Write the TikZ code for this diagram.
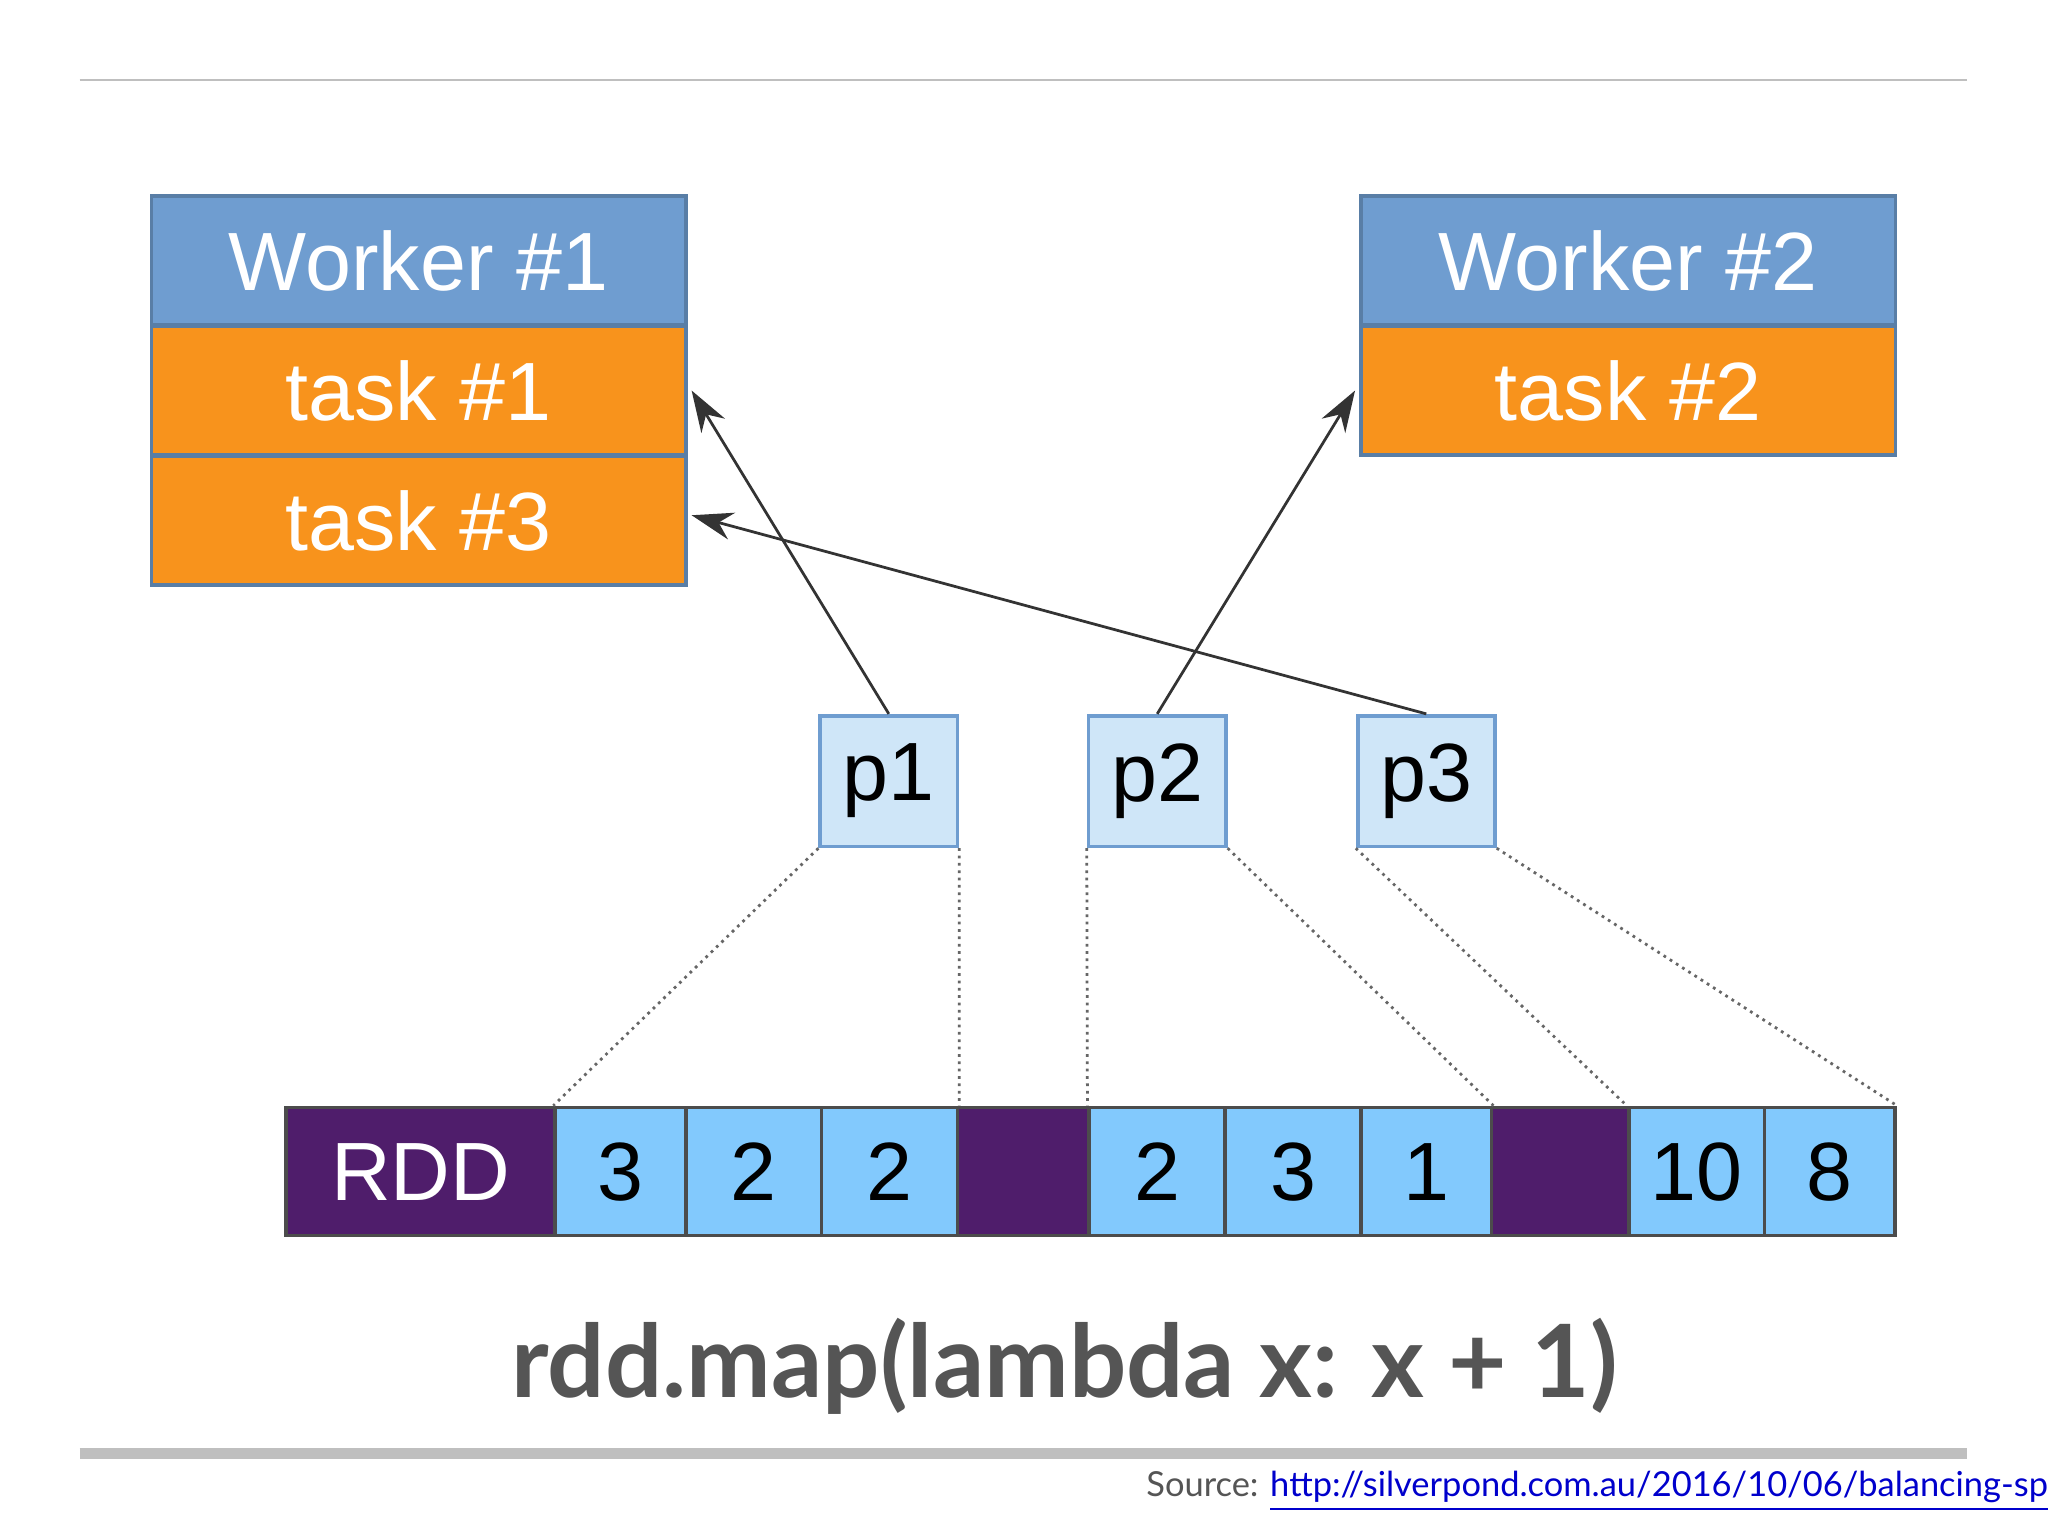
\documentclass[tikz,border=0pt]{standalone}
\usepackage{fontspec}
\setmainfont{Liberation Sans}
\newfontfamily\titlefont{Lato}
\usetikzlibrary{arrows.meta}
\definecolor{hdr}{HTML}{6F9DD0}
\definecolor{tsk}{HTML}{F8931C}
\definecolor{pbox}{HTML}{CFE6F8}
\definecolor{cell}{HTML}{82C9FD}
\definecolor{rdd}{HTML}{4F1D6B}
\definecolor{ttl}{HTML}{555555}
\begin{document}
\begin{tikzpicture}[x=0.01cm,y=-0.01cm,
  box/.style={draw=hdr!80!black, line width=0.8pt, inner sep=0pt, font=\fontsize{18}{18}\selectfont},
  hd/.style={box, fill=hdr, text=white, minimum width=4.09cm, minimum height=0.99cm},
  tk/.style={box, fill=tsk, text=white, minimum width=4.09cm, minimum height=0.99cm},
  pp/.style={box, draw=hdr, fill=pbox, minimum width=1.05cm, minimum height=1cm},
  cl/.style={draw=black!70, line width=0.8pt, fill=cell, inner sep=0pt, minimum height=0.98cm, minimum width=#1, font=\fontsize{18}{18}\selectfont},
  gap/.style={draw=black!70, line width=0.8pt, fill=rdd, inner sep=0pt, minimum height=0.98cm, minimum width=#1, text=white, font=\fontsize{18}{18}\selectfont},
  dots/.style={densely dotted, draw=black!60, line width=0.6pt},
  arr/.style={-{Stealth[length=9pt,width=6pt]}, line width=0.6pt, draw=black!80}]
\useasboundingbox (0,0) rectangle (1568,1176);
\fill[white] (0,0) rectangle (1568,1176);
\draw[black!25, line width=0.5pt] (61,61) -- (1506,61);
% workers
\node[hd] (w1) at (320.5,199.5) {Worker \#1};
\node[tk] (t1) at (320.5,299) {task \#1};
\node[tk] (t3) at (320.5,398.5) {task \#3};
\node[hd] (w2) at (1246.5,199.5) {Worker \#2};
\node[tk] (t2) at (1246.5,299) {task \#2};
% partitions
\node[pp] (p1) at (680.5,598) {p1};
\node[pp] (p2) at (886,598) {p2};
\node[pp] (p3) at (1092,598) {p3};
% RDD row
\node[gap=2.06cm] (r) at (322,897) {RDD};
\node[cl=1cm] (c1) at (475,897) {3};
\node[cl=1.04cm] (c2) at (577,897) {2};
\node[cl=1.04cm] (c3) at (681,897) {2};
\node[gap=1.01cm] (g1) at (783.5,897) {};
\node[cl=1.04cm] (c4) at (886,897) {2};
\node[cl=1.04cm] (c5) at (990,897) {3};
\node[cl=1cm] (c6) at (1092,897) {1};
\node[gap=1.05cm] (g2) at (1194.5,897) {};
\node[cl=1.04cm] (c7) at (1299,897) {10};
\node[cl=1cm] (c8) at (1401,897) {8};
% dotted mapping
\draw[dots] (p1.south west) -- (c1.north west);
\draw[dots] (p1.south east) -- (c3.north east);
\draw[dots] (p2.south west) -- (c4.north west);
\draw[dots] (p2.south east) -- (c6.north east);
\draw[dots] (p3.south west) -- (c7.north west);
\draw[dots] (p3.south east) -- (c8.north east);
% arrows
\draw[arr] (p1.north) -- ([xshift=0.03cm]t1.east);
\draw[arr] (p2.north) -- ([xshift=-0.03cm]t2.west);
\draw[arr] (p3.north) -- ([xshift=0.03cm,yshift=0.04cm]t3.east);
% caption
\node[text=ttl, font=\titlefont\bfseries\fontsize{22}{22}\selectfont] (cap) at (815,1046) {rdd.map(lambda x: x + 1)};
\draw[black!25, line width=2.3pt] (61,1113) -- (1506,1113);
\node[anchor=west, inner sep=0pt, font=\titlefont\fontsize{7.5}{7.5}\selectfont] (src) at (877,1142)
  {\textcolor{ttl}{Source:} \textcolor{blue!80!black}{\underline{http://silverpond.com.au/2016/10/06/balancing-spark.html}}};
\end{tikzpicture}
\end{document}
